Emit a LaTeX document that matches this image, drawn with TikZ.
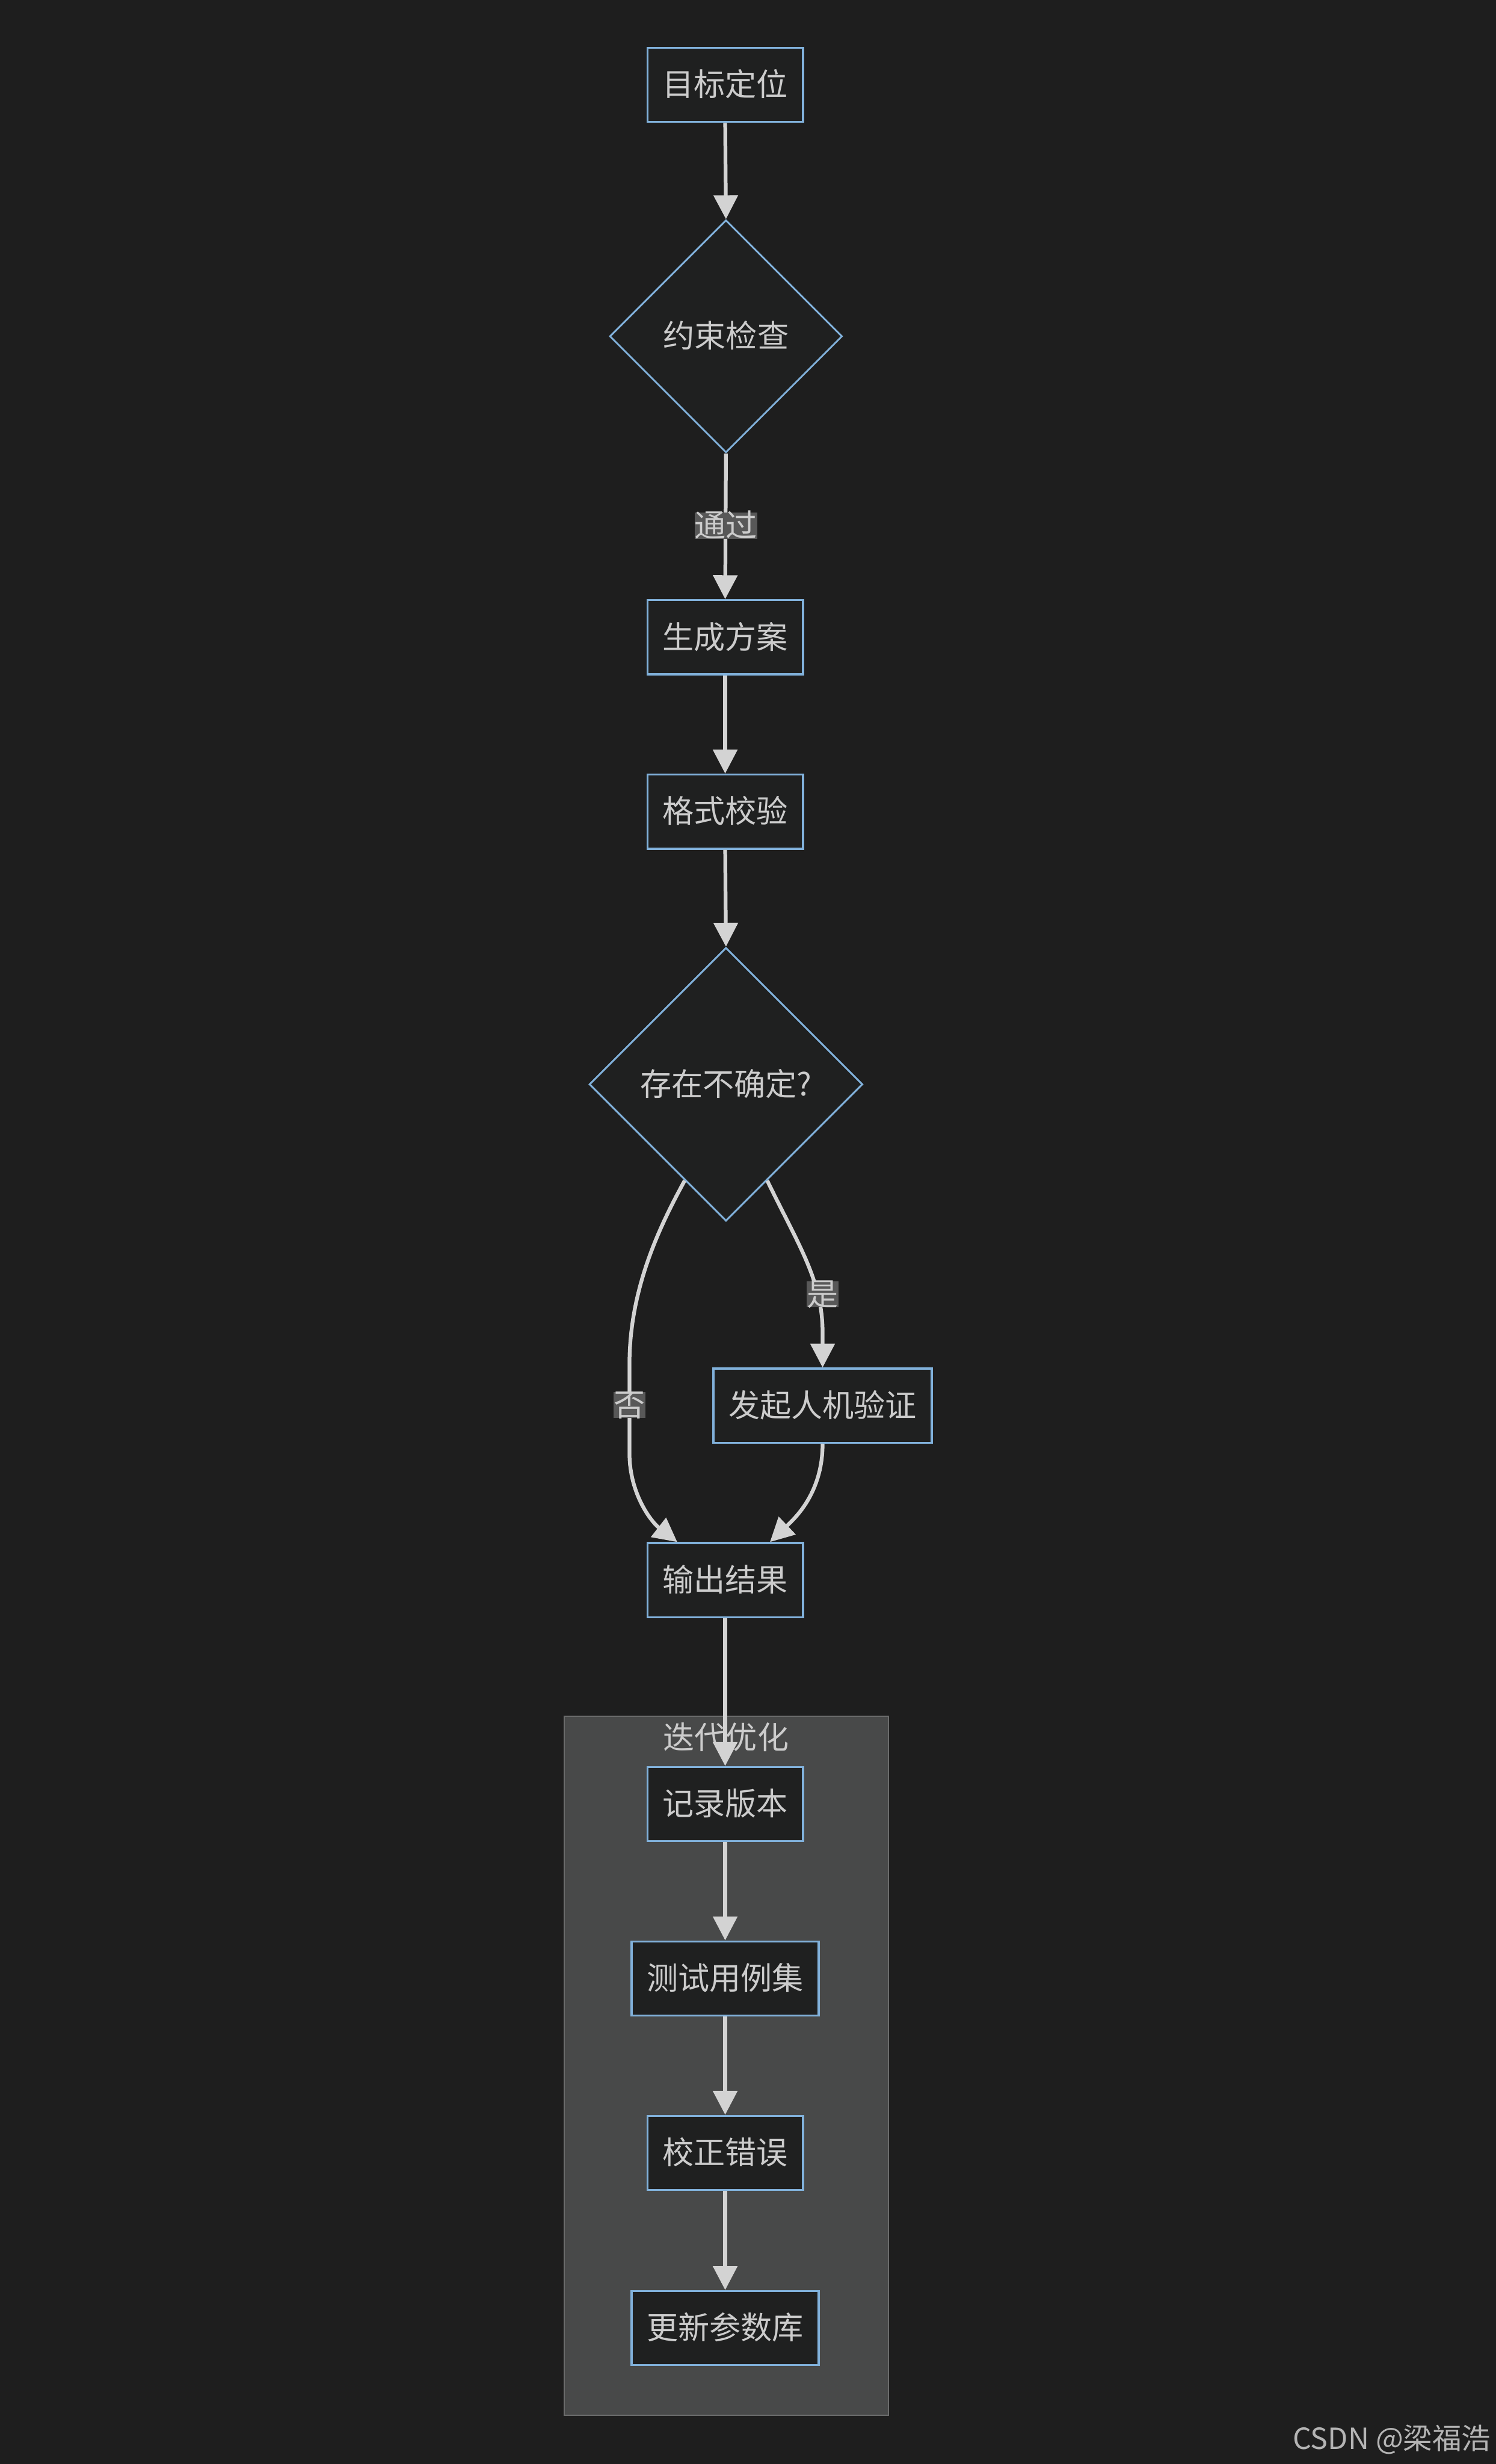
\documentclass[tikz,border=0pt]{standalone}
\usepackage{fontspec}
\setmainfont{Noto Sans CJK SC}
\usetikzlibrary{shapes.geometric,arrows.meta,calc}
\definecolor{bgc}{HTML}{1E1E1E}
\definecolor{nodefill}{HTML}{1F2020}
\definecolor{nodeborder}{HTML}{81B1DB}
\definecolor{txt}{HTML}{CCCCCC}
\definecolor{edgec}{HTML}{D3D3D3}
\definecolor{lblbg}{HTML}{585858}
\definecolor{clusterbg}{HTML}{484949}
\definecolor{clusterborder}{HTML}{6B6C6C}
\definecolor{wm}{HTML}{B4B4B4}
\begin{document}
\begin{tikzpicture}[x=0.25mm,y=-0.25mm,
 every node/.style={font=\fontsize{14.2pt}{17pt}\selectfont, text=txt},
 box/.style={draw=nodeborder, fill=nodefill, line width=0.9pt, rectangle, inner xsep=2.4mm, inner ysep=0pt, minimum height=11.8mm, text height=1.02em, text depth=0em},
 decision/.style={draw=nodeborder, fill=nodefill, line width=0.8pt, diamond, inner sep=0pt, text height=1.02em, text depth=0em},
 lbl/.style={fill=lblbg, inner xsep=0pt, inner ysep=0.3mm, text height=1.02em, text depth=0em},
 conn/.style={draw=edgec, line width=1.7pt, -{Triangle[length=3.8mm,width=3.8mm]}},
 clusterbox/.style={fill=clusterbg, draw=clusterborder, line width=0.5pt},
]
% background / bounding box
\fill[bgc] (0,0) rectangle (952,1568);
\useasboundingbox (0,0) rectangle (952,1568);

% cluster
\draw[clusterbox] (359,1092) rectangle (565.5,1537);
\node[text height=1.02em, text depth=0em] (ctitle) at (462,1106) {迭代优化};

% nodes
\node[box] (n1) at (461.5,54) {目标定位};
\node[decision, minimum width=37mm, minimum height=37mm] (d1) at (462,214) {约束检查};
\node[box] (n2) at (461.5,405.5) {生成方案};
\node[box] (n3) at (461.5,516.5) {格式校验};
\node[decision, minimum width=43.5mm, minimum height=43.5mm] (d2) at (462,690) {存在不确定?};
\node[box] (n4) at (523.5,894.5) {发起人机验证};
\node[box] (n5) at (461.5,1005.5) {输出结果};
\node[box] (n6) at (461.5,1148) {记录版本};
\node[box] (n7) at (461.5,1259) {测试用例集};
\node[box] (n8) at (461.5,1370) {校正错误};
\node[box] (n9) at (461.5,1481.5) {更新参数库};

% connectors
\draw[conn] (n1.south) -- (d1.north);
\draw[conn] (d1.south) -- (n2.north);
\draw[conn] (n2.south) -- (n3.north);
\draw[conn] (n3.south) -- (d2.north);
\draw[conn] ($(d2.west)!0.7!(d2.south)$) .. controls (420,780) and (400.6,820) .. (400.6,868)
  -- (400.6,925) .. controls (400.6,950) and (414,968) .. ($(n5.north)+(-30.5,0)$);
\draw[conn] ($(d2.east)!0.7!(d2.south)$) .. controls (508,792) and (523.5,815) .. (523.5,848) -- (n4.north);
\draw[conn] (n4.south) .. controls (523.5,950) and (506,966) .. ($(n5.north)+(28.5,0)$);
\draw[conn] (n5.south) -- (n6.north);
\draw[conn] (n6.south) -- (n7.north);
\draw[conn] (n7.south) -- (n8.north);
\draw[conn] (n8.south) -- (n9.north);

% edge labels
\node[lbl] (l1) at (462,334.5) {通过};
\node[lbl] (l2) at (523.5,823.6) {是};
\node[lbl] (l3) at (400.6,894) {否};

% watermark
\node[anchor=base east, text=wm, font=\fontsize{13.2pt}{15pt}\selectfont, inner sep=0pt] (wmark) at (949,1558.5) {CSDN @梁福浩};
\end{tikzpicture}
\end{document}
